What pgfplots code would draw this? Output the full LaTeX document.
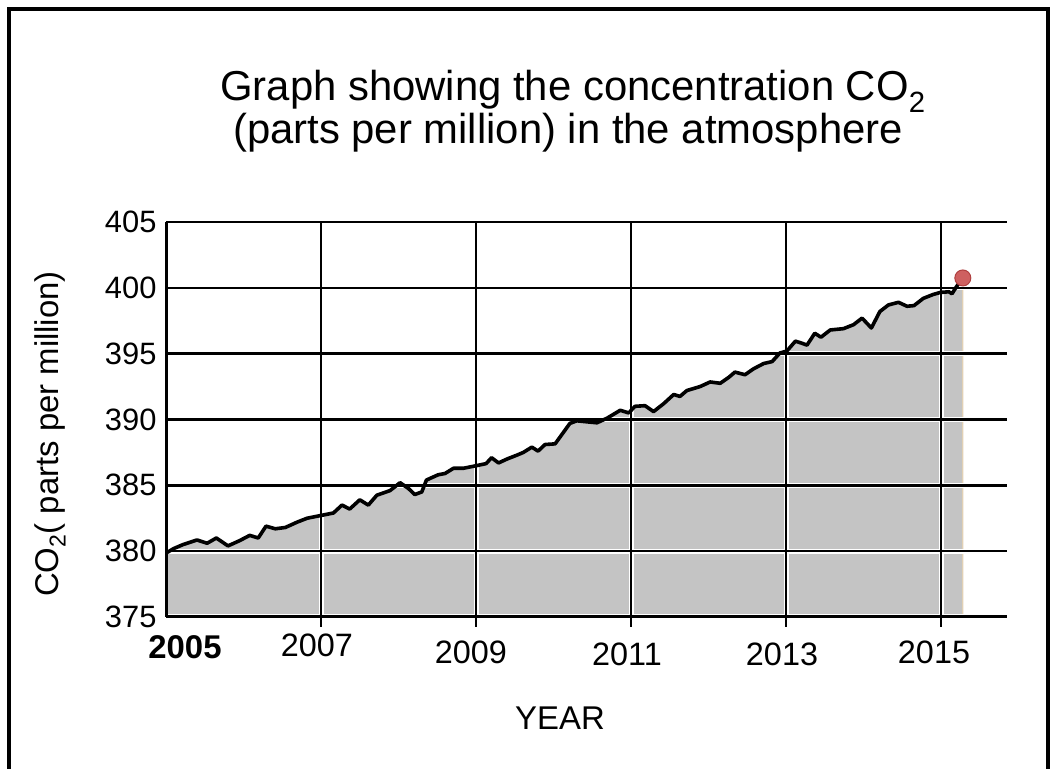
\documentclass[border=0pt]{standalone}
\usepackage{fontspec}
\setmainfont{Liberation Sans}
\usepackage{pgfplots}
\usepackage{pgfplotstable}
\pgfplotsset{compat=1.18}
\definecolor{areagray}{RGB}{196,196,196}
\definecolor{areaedge}{RGB}{225,208,180}
\definecolor{dotred}{RGB}{206,96,96}
\definecolor{dotedge}{RGB}{175,62,62}
\pgfplotstableread{
year ppm
2005.00 379.85
2005.10 380.2
2005.22 380.5
2005.40 380.85
2005.53 380.6
2005.65 381.0
2005.80 380.4
2005.95 380.8
2006.08 381.2
2006.19 381.0
2006.29 381.9
2006.41 381.7
2006.54 381.8
2006.69 382.2
2006.82 382.5
2006.99 382.7
2007.16 382.9
2007.27 383.5
2007.37 383.2
2007.50 383.9
2007.61 383.5
2007.72 384.25
2007.89 384.6
2008.02 385.2
2008.13 384.75
2008.21 384.3
2008.30 384.5
2008.36 385.4
2008.51 385.8
2008.60 385.9
2008.71 386.3
2008.84 386.3
2009.01 386.5
2009.13 386.65
2009.20 387.1
2009.29 386.7
2009.40 387.0
2009.53 387.3
2009.61 387.5
2009.72 387.9
2009.80 387.6
2009.89 388.1
2010.02 388.15
2010.10 388.8
2010.21 389.7
2010.30 389.9
2010.47 389.8
2010.56 389.75
2010.69 390.1
2010.86 390.7
2010.97 390.5
2011.05 391.0
2011.18 391.05
2011.29 390.6
2011.42 391.2
2011.55 391.9
2011.63 391.75
2011.72 392.2
2011.89 392.5
2012.02 392.85
2012.15 392.75
2012.26 393.2
2012.34 393.6
2012.47 393.4
2012.58 393.85
2012.71 394.25
2012.82 394.4
2012.92 395.05
2013.01 395.2
2013.12 395.95
2013.20 395.8
2013.27 395.65
2013.37 396.55
2013.45 396.25
2013.57 396.8
2013.74 396.9
2013.87 397.2
2013.98 397.7
2014.10 396.95
2014.21 398.2
2014.32 398.7
2014.45 398.9
2014.56 398.6
2014.65 398.65
2014.77 399.2
2014.90 399.5
2014.99 399.65
2015.10 399.7
2015.14 399.55
2015.20 400.1
2015.28 400.75
}\codata
\begin{document}
\begin{tikzpicture}
\useasboundingbox (0bp,0bp) rectangle (1053bp,769bp);
\draw[line width=4bp] (9bp,0bp) -- (9bp,760bp) -- (1048bp,760bp) -- (1048bp,0bp);
\node[anchor=base, font=\fontsize{42}{50}\selectfont] at (573bp,668bp) {Graph showing the concentration CO\textsubscript{2}};
\node[anchor=base, font=\fontsize{42}{50}\selectfont] at (568bp,625bp) {(parts per million) in the atmosphere};
\node[rotate=90, font=\fontsize{33}{33}\selectfont] at (50bp,335bp) {CO\textsubscript{2}( parts per million)};
\begin{axis}[
  at={(166bp,152bp)}, anchor=south west,
  width=841bp, height=395bp, scale only axis,
  xmin=2005, xmax=2015.85, ymin=375, ymax=405,
  axis on top,
  axis x line*=bottom, axis y line*=left,
  axis line style={-, line width=3bp, black},
  xtick={2007,2009,2011,2013,2015},
  xticklabels={,,,,,},
  ytick={375,380,...,405},
  tick align=outside,
  major tick length=10bp,
  xtick style={line width=2bp, black},
  ytick style={draw=none},
  /pgf/number format/assume math mode=true,
  yticklabel style={font=\fontsize{31}{31}\selectfont, xshift=4bp},
  grid=major,
  major grid style={line width=2.6bp, black},
]
\addplot[fill=areagray, draw=areaedge, line width=1.2bp] table[x=year,y=ppm]{\codata} \closedcycle;
\addplot[white, line width=5bp, forget plot] coordinates {(2007,375) (2007,405)};
\addplot[white, line width=5bp, forget plot] coordinates {(2009,375) (2009,405)};
\addplot[white, line width=5bp, forget plot] coordinates {(2011,375) (2011,405)};
\addplot[white, line width=5bp, forget plot] coordinates {(2013,375) (2013,405)};
\addplot[white, line width=5bp, forget plot] coordinates {(2015,375) (2015,405)};
\addplot[white, line width=5bp, forget plot] coordinates {(2005,375) (2015.85,375)};
\addplot[white, line width=5bp, forget plot] coordinates {(2005,380) (2015.85,380)};
\addplot[white, line width=5bp, forget plot] coordinates {(2005,385) (2015.85,385)};
\addplot[white, line width=5bp, forget plot] coordinates {(2005,390) (2015.85,390)};
\addplot[white, line width=5bp, forget plot] coordinates {(2005,395) (2015.85,395)};
\addplot[white, line width=5bp, forget plot] coordinates {(2005,400) (2015.85,400)};
\addplot[black, line width=3.6bp, line join=round] table[x=year,y=ppm]{\codata};
\addplot[only marks, mark=*, mark size=8bp, mark options={fill=dotred, draw=dotedge, line width=1bp}] coordinates {(2015.28,400.75)};
\end{axis}
\node[font=\fontsize{33}{33}\selectfont\bfseries, inner sep=0] at (185bp,122bp) {2005};
\node[font=\fontsize{32.5}{33}\selectfont, inner sep=0] at (317bp,124bp) {2007};
\node[font=\fontsize{32.5}{33}\selectfont, inner sep=0] at (471bp,117bp) {2009};
\node[font=\fontsize{32.5}{33}\selectfont, inner sep=0] at (627bp,115bp) {2011};
\node[font=\fontsize{32.5}{33}\selectfont, inner sep=0] at (782bp,115bp) {2013};
\node[font=\fontsize{32.5}{33}\selectfont, inner sep=0] at (934bp,117bp) {2015};
\node[font=\fontsize{33}{33}\selectfont] at (560bp,51bp) {YEAR};
\end{tikzpicture}
\end{document}
